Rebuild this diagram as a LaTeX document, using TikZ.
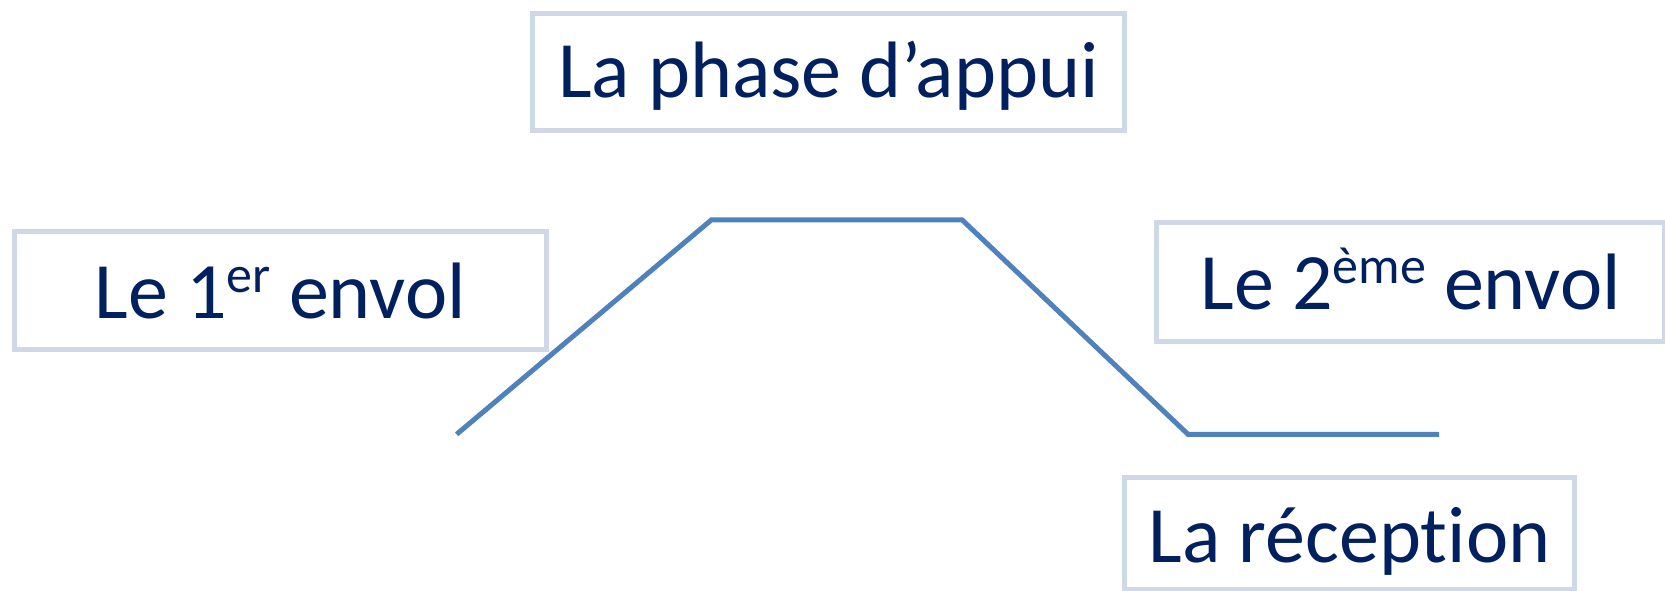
\documentclass[tikz,border=0pt]{standalone}
\usepackage{fontspec}
\setmainfont{Carlito}[Ligatures=NoCommon]
\definecolor{boxline}{RGB}{208,216,232}
\definecolor{txt}{RGB}{0,32,96}
\definecolor{curve}{RGB}{79,129,189}
\newcommand{\supx}[1]{\raisebox{0.33em}{\fontsize{52}{52}\selectfont #1}}
\begin{document}
\begin{tikzpicture}[x=1pt,y=-1pt,
  label box/.style={draw=boxline, line width=5pt, fill=white, inner sep=0pt,
    text=txt, font=\fontsize{80}{86}\selectfont, anchor=north west},
  profile/.style={draw=curve, line width=5pt, line join=miter}]
\useasboundingbox (0,0) rectangle (1665,590);
\node[label box, minimum width=592pt, text height=84pt, text depth=33pt] (appui) at (530,10.6) {La phase d’appui};
\node[label box, minimum width=532pt, text height=87pt, text depth=31pt] (envol1) at (11.7,229) {Le 1\supx{er} envol};
\node[label box, minimum width=508pt, text height=87pt, text depth=32pt] (envol2) at (1154,220) {Le 2\supx{ème} envol};
\node[label box, minimum width=450pt, text height=84.6pt, text depth=27.4pt] (reception) at (1122,475) {La réception};
\coordinate (p1) at (456.6,434.3);
\coordinate (p2) at (711.5,219.8);
\coordinate (p3) at (962,219.8);
\coordinate (p4) at (1188,434.3);
\coordinate (p5) at (1439,434.3);
\draw[profile] (p1) -- (p2) -- (p3) -- (p4) -- (p5);
\end{tikzpicture}
\end{document}
